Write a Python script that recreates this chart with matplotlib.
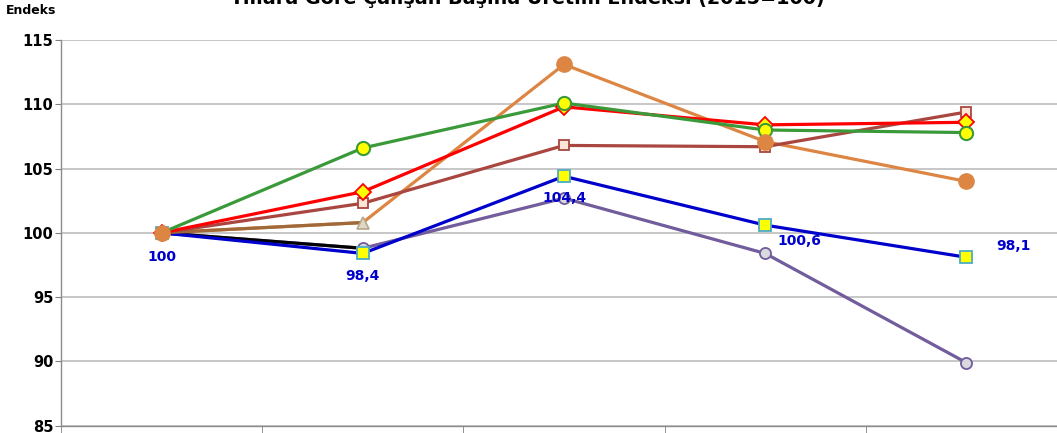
import numpy as np
import matplotlib
matplotlib.use("Agg")
import matplotlib.pyplot as plt

# Data
years = ["2015", "2016", "2017", "2018", "2019"]
green_vals = [100, 106.6, 110.1, 108.0, 107.8]
red_vals = [100, 103.2, 109.8, 108.4, 108.6]
brownred_vals = [100, 102.3, 106.8, 106.7, 109.4]
brown_vals = [100, 100.8, np.nan, np.nan, np.nan]
orange_vals = [100, 100.8, 113.1, 107.1, 104.0]
black_vals = [100, 98.8, np.nan, np.nan, np.nan]
purple_vals = [100, 98.8, 102.7, 98.4, 89.9]
blue_vals = [100, 98.4, 104.4, 100.6, 98.1]
blue_labels = ["100", "98,4", "104,4", "100,6", "98,1"]

title = "Yıllara Göre Çalışan Başına Üretim Endeksi (2015=100)"

fig = plt.figure(figsize=(10.57, 4.33), dpi=100)
ax = fig.add_axes([61 / 1057, 1 - 425.7 / 433, 1006 / 1057, 385.7 / 433])

x = np.arange(len(years))
lw = 2.3

# lines first (bottom to top), markers drawn afterwards
ax.plot(x, orange_vals, color="#DD8542", lw=lw, zorder=2)
ax.plot(x, purple_vals, color="#715C9C", lw=lw, zorder=2.1)
ax.plot(x, black_vals, color="#000000", lw=lw, zorder=2.2)
ax.plot(x, blue_vals, color="#0000CC", lw=lw, zorder=2.3)
ax.plot(x, brown_vals, color="#A0693A", lw=lw, zorder=2.4)
ax.plot(x, brownred_vals, color="#A8463F", lw=lw, zorder=2.5)
ax.plot(x, red_vals, color="#FF0000", lw=lw, zorder=2.6)
ax.plot(x, green_vals, color="#3A9A3A", lw=lw, zorder=2.7)

ax.plot(x, brownred_vals, ls="none", marker="s", ms=7, mfc="#FCE4D6",
        mec="#A8463F", mew=1.3, zorder=3.0)
ax.plot(x, purple_vals, ls="none", marker="o", ms=8, mfc="#D9D9DE",
        mec="#715C9C", mew=1.3, zorder=3.1)
ax.plot(x, red_vals, ls="none", marker="D", ms=8, mfc="#FFFF00",
        mec="#FF0000", mew=1.3, zorder=3.2)
ax.plot(x, blue_vals, ls="none", marker="s", ms=8, mfc="#FFFF00",
        mec="#4BACC6", mew=1.3, zorder=3.3)
ax.plot(x, green_vals, ls="none", marker="o", ms=9.5, mfc="#FFFF00",
        mec="#3A9A3A", mew=1.5, zorder=3.4)
ax.plot(x, brown_vals, ls="none", marker="^", ms=9, mfc="#DDD9C4",
        mec="#B5A68C", mew=1.2, markevery=[1], zorder=3.5)
ax.plot(x, orange_vals, ls="none", marker="o", ms=11, mfc="#DD8542",
        mec="#DD8542", markevery=[0, 2, 3, 4], zorder=3.6)

# data labels of the blue series
offsets = [(0, -24), (0, -23), (0, -22), (34, -16), (47, 11)]
for xi, v, lab, off in zip(x, blue_vals, blue_labels, offsets):
    ax.annotate(lab, (xi, v), xytext=off, textcoords="offset pixels",
                ha="center", va="center", color="#0000CC",
                fontsize=10, fontweight="bold", zorder=5)

ax.set_xlim(-0.5, 4.5)
ax.set_ylim(85, 115)
ax.set_yticks(np.arange(85, 116, 5))
ax.set_xticks(x)
ax.set_xticklabels(years)
ax.set_xticks(np.arange(-0.5, 5, 1), minor=True)
ax.tick_params(axis="x", which="major", length=0, pad=5,
               labelsize=10)
ax.tick_params(axis="x", which="minor", length=5, color="#808080")
ax.tick_params(axis="y", length=4, color="#808080", pad=1.5, labelsize=10.5)
for lab in ax.get_xticklabels() + ax.get_yticklabels():
    lab.set_fontweight("bold")

ax.grid(axis="y", color="#BEBEBE", lw=1.2)
ax.set_axisbelow(True)
for s in ["top", "right"]:
    ax.spines[s].set_visible(False)
for s in ["left", "bottom"]:
    ax.spines[s].set_color("#8C8C8C")
    ax.spines[s].set_linewidth(1.0)

fig.text(0.006, 1 - 11 / 433, "Endeks", fontsize=9, fontweight="bold",
         va="center", ha="left")
fig.text(527 / 1057, 1 - 4 / 433, title, fontsize=13.8, fontweight="bold",
         ha="center", va="baseline")

fig.savefig("out.png", dpi=100)
